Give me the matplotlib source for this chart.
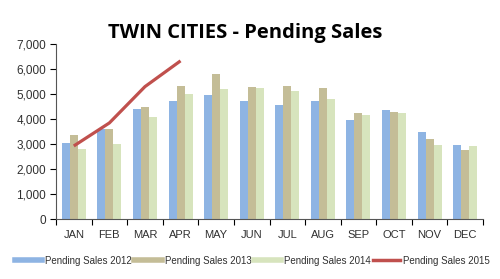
import matplotlib.pyplot as plt
from matplotlib.lines import Line2D
import numpy as np

months = ["JAN", "FEB", "MAR", "APR", "MAY", "JUN",
          "JUL", "AUG", "SEP", "OCT", "NOV", "DEC"]
sales_2012 = [3040, 3610, 4400, 4740, 4970, 4740, 4580, 4740, 3970, 4360, 3490, 2970]
sales_2013 = [3370, 3600, 4500, 5330, 5810, 5280, 5330, 5250, 4240, 4280, 3210, 2770]
sales_2014 = [2810, 3010, 4080, 5010, 5200, 5240, 5140, 4820, 4160, 4250, 2970, 2930]
sales_2015 = [2930, 3850, 5300, 6330]
series_labels = ["Pending Sales 2012", "Pending Sales 2013",
                 "Pending Sales 2014", "Pending Sales 2015"]
colors = ["#8EB4E3", "#C4BD97", "#D7E4BD", "#C0504D"]

plt.rcParams["font.family"] = ["Liberation Sans", "DejaVu Sans"]


def main():
    fig = plt.figure(figsize=(5, 2.79), dpi=100)
    ax = fig.add_axes([0.112, 0.214, 0.854, 0.628])

    x = np.arange(len(months))
    w = 0.225
    kargs = dict(width=w, linewidth=0)
    ax.bar(x - w, sales_2012, color=colors[0], **kargs)
    ax.bar(x, sales_2013, color=colors[1], **kargs)
    ax.bar(x + w, sales_2014, color=colors[2], **kargs)
    ax.plot(x[:len(sales_2015)], sales_2015, color=colors[3], lw=2.3,
            solid_capstyle="butt")

    ax.set_xlim(-0.5, 11.5)
    ax.set_ylim(0, 7000)
    ax.set_yticks(np.arange(0, 7001, 1000))
    ax.yaxis.set_major_formatter(lambda v, pos: f"{int(v):,}")
    ax.set_xticks(x)
    ax.set_xticklabels(months)
    ax.set_xticks(np.arange(-0.5, 12, 1), minor=True)
    ax.tick_params(axis="x", which="major", length=0, pad=8, labelsize=8)
    ax.tick_params(axis="x", which="minor", length=4, width=0.8, direction="out")
    ax.tick_params(axis="y", length=4, width=0.8, direction="out", labelsize=8.5,
                   pad=3)
    for label in ax.get_xticklabels() + ax.get_yticklabels():
        label.set_color("#303030")
    for side in ["top", "right"]:
        ax.spines[side].set_visible(False)
    for side in ["left", "bottom"]:
        ax.spines[side].set_color("#555555")

    fig.text(0.49, 0.865, "TWIN CITIES - Pending Sales", ha="center",
             fontsize=14.5, fontweight="bold", family="Open Sans")

    lh = [Line2D([], [], color=c, lw=4 if i < 3 else 2.5)
          for i, c in enumerate(colors)]
    fig.legend(lh, series_labels,
               loc="center", bbox_to_anchor=(0.505, 0.065), ncol=4, frameon=False,
               fontsize=7, handlelength=2.8, handletextpad=0.3, columnspacing=0.25,
               labelcolor="#303030")

    fig.savefig("out.png", dpi=100)


main()
